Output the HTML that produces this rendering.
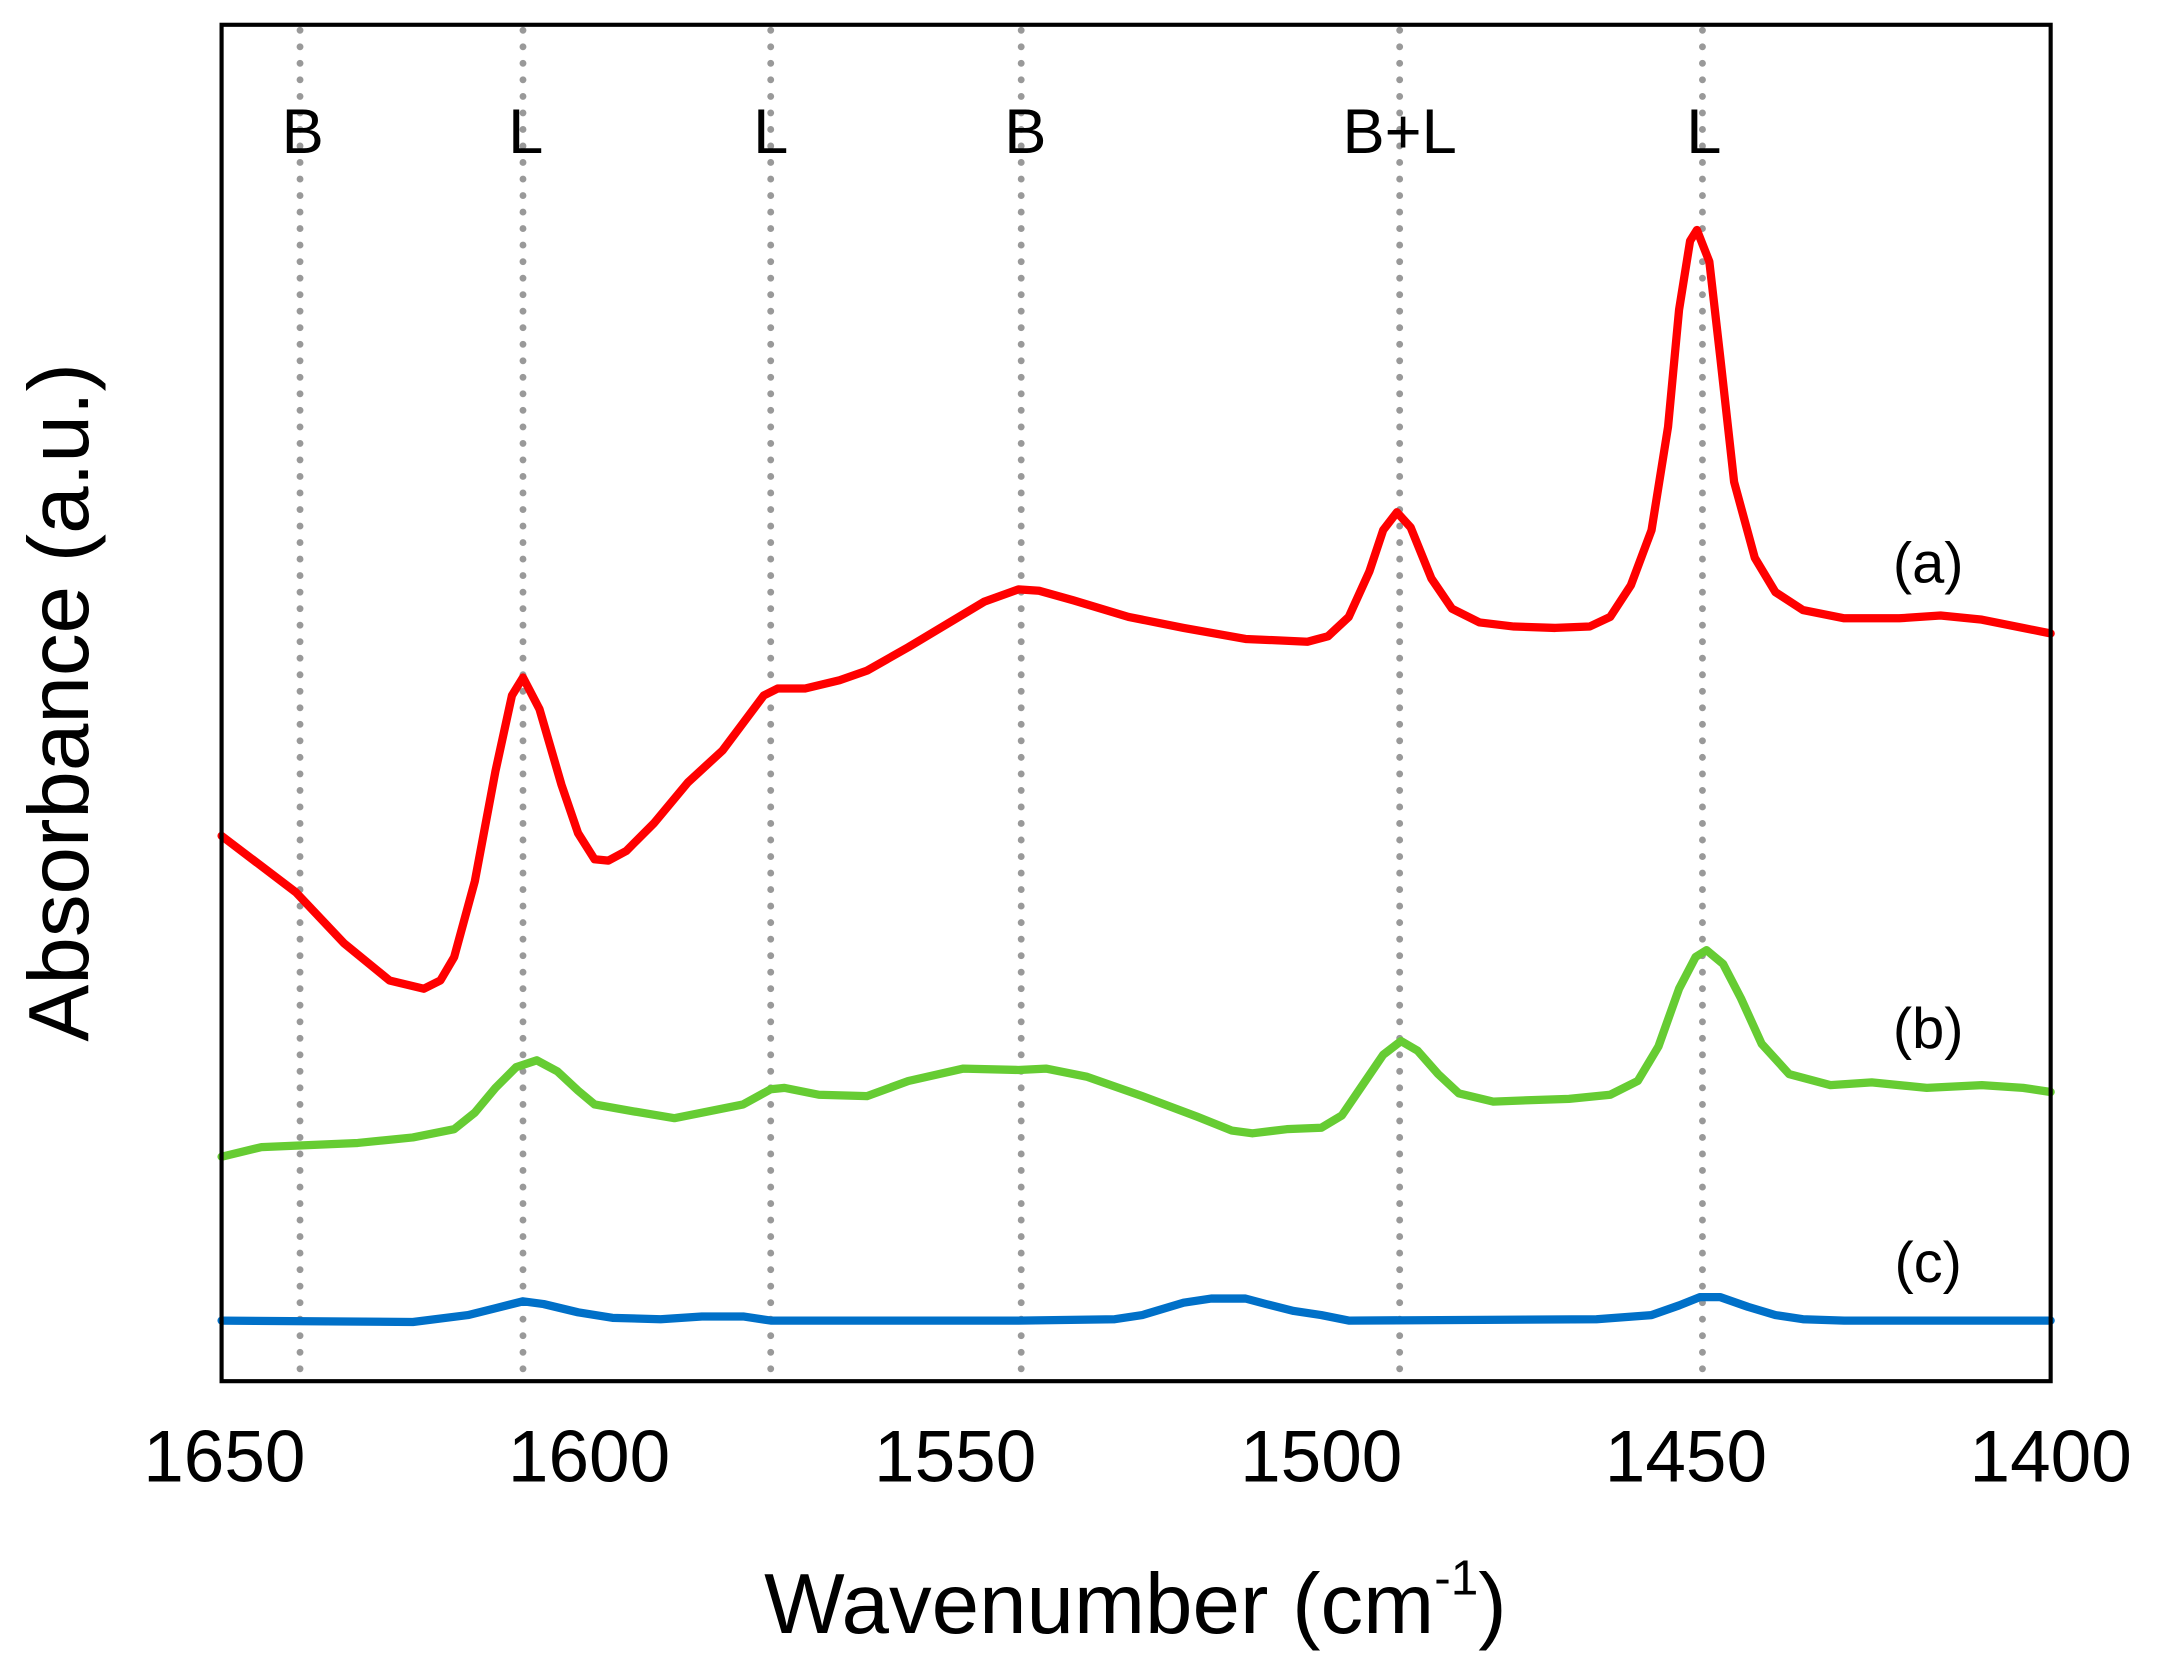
<!DOCTYPE html>
<html><head><meta charset="utf-8"><style>
html,body{margin:0;padding:0;background:#fff;}
svg{display:block;}
text{font-family:"Liberation Sans",sans-serif;fill:#000;}
</style></head><body>
<svg width="2158" height="1680" viewBox="0 0 1568 1220" preserveAspectRatio="none" xmlns="http://www.w3.org/2000/svg">
<rect x="0" y="0" width="1568" height="1220" fill="#fff"/>
<g stroke="#999" stroke-width="5" stroke-dasharray="0,12" stroke-linecap="round">
<line x1="218" y1="22" x2="218" y2="1001"/>
<line x1="380" y1="22" x2="380" y2="1001"/>
<line x1="560" y1="22" x2="560" y2="1001"/>
<line x1="742" y1="22" x2="742" y2="1001"/>
<line x1="1017" y1="22" x2="1017" y2="1001"/>
<line x1="1237" y1="22" x2="1237" y2="1001"/>
</g>
<g font-size="46" text-anchor="middle">
<text x="220" y="111">B</text>
<text x="382" y="111">L</text>
<text x="560" y="111">L</text>
<text x="745" y="111">B</text>
<text x="1017" y="111">B+L</text>
<text x="1238" y="111">L</text>
</g>
<g fill="none" stroke-width="6" stroke-linejoin="round" stroke-linecap="round">
<polyline stroke="#ff0000" points="161,607 215,648 250,685 283,712 308,718 320,712 330,695 345,640 360,560 372,505 380,492 392,515 408,570 420,605 432,624 442,625 455,618 475,598 500,568 525,545 540,525 555,505 565,500 585,500 610,494 630,487 660,470 690,452 715,437 740,428 755,429 780,436 820,448 860,456 905,464 950,466 965,462 980,448 995,415 1005,385 1015,372 1025,383 1040,420 1055,442 1075,452 1100,455 1130,456 1155,455 1170,448 1185,425 1200,385 1212,310 1220,225 1228,175 1233,167 1242,190 1250,260 1260,350 1275,405 1290,430 1310,443 1340,449 1380,449 1410,447 1440,450 1470,456 1490,460"/>
<polyline stroke="#66cc33" points="161,840 190,833 260,830 300,826 330,820 345,808 360,790 375,775 390,770 405,778 420,792 432,802 460,807 490,812 510,808 540,802 560,791 570,790 595,795 630,796 660,785 700,776 740,777 760,776 790,782 830,796 870,811 895,821 910,823 935,820 960,819 975,810 990,788 1005,766 1018,756 1030,763 1045,780 1060,794 1085,800 1110,799 1140,798 1170,795 1190,785 1205,760 1220,718 1232,695 1240,690 1252,700 1265,725 1280,758 1300,780 1330,788 1360,786 1400,790 1440,788 1470,790 1490,793"/>
<polyline stroke="#0070c8" points="161,959 300,960 340,955 360,950 380,945 395,947 420,953 445,957 480,958 510,956 540,956 560,959 740,959 810,958 830,955 860,946 880,943 905,943 920,947 940,952 960,955 980,959 1160,958 1200,955 1220,948 1235,942 1250,942 1270,949 1290,955 1310,958 1340,959 1490,959"/>
</g>
<g font-size="42" text-anchor="middle">
<text x="1401" y="423">(a)</text>
<text x="1401" y="761">(b)</text>
<text x="1401" y="931">(c)</text>
</g>
<rect x="161" y="18" width="1329" height="985" fill="none" stroke="#000" stroke-width="3"/>
<g font-size="53" text-anchor="middle">
<text x="163" y="1076">1650</text>
<text x="428" y="1076">1600</text>
<text x="694" y="1076">1550</text>
<text x="960" y="1076">1500</text>
<text x="1225" y="1076">1450</text>
<text x="1490" y="1076">1400</text>
</g>
<text x="825" y="1186" font-size="62" text-anchor="middle">Wavenumber (cm<tspan font-size="36" dy="-28">-1</tspan><tspan dy="28">)</tspan></text>
<text transform="translate(64,510) rotate(-90)" font-size="62" text-anchor="middle">Absorbance (a.u.)</text>
</svg>
</body></html>
